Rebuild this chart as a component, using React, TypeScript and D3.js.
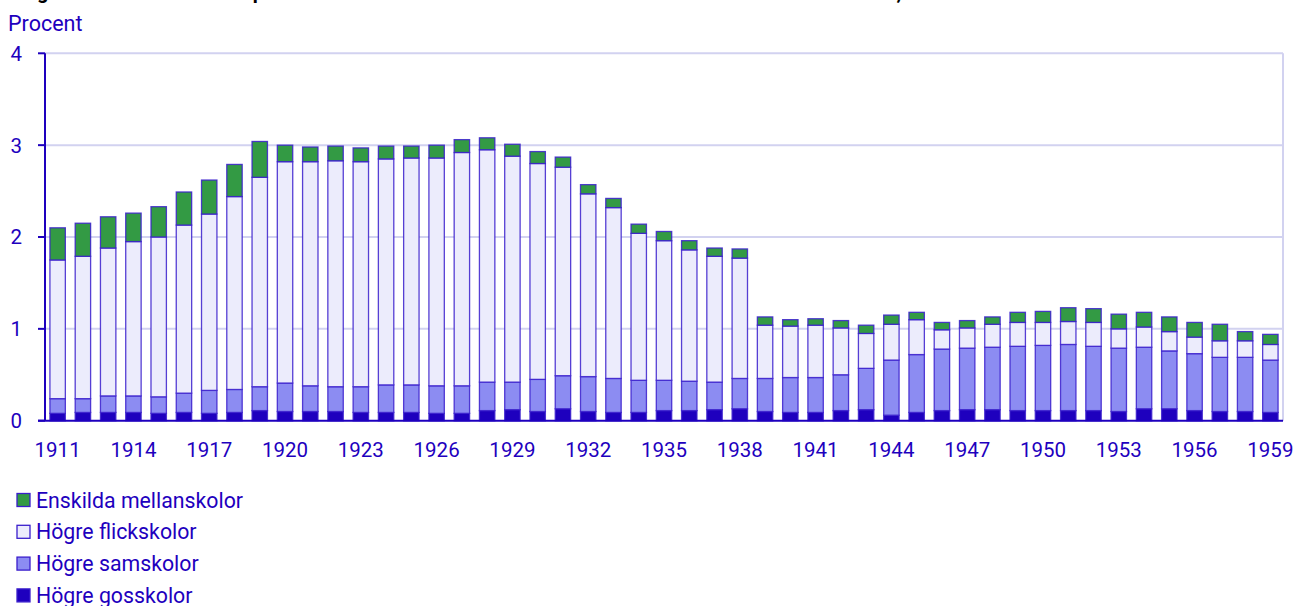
import React from "react";
import * as d3 from "d3";

const years: number[] = d3.range(1911, 1960);

const hogreGosskolor: number[] = [
  0.08, 0.09, 0.09, 0.09, 0.08, 0.09, 0.08, 0.09, 0.11, 0.1,
  0.1, 0.1, 0.09, 0.09, 0.09, 0.08, 0.08, 0.11, 0.12, 0.1,
  0.13, 0.1, 0.09, 0.09, 0.11, 0.11, 0.12, 0.13, 0.1, 0.09,
  0.09, 0.11, 0.12, 0.06, 0.09, 0.11, 0.12, 0.12, 0.11, 0.11,
  0.11, 0.11, 0.1, 0.13, 0.13, 0.11, 0.1, 0.1, 0.09,
];
const hogreSamskolor: number[] = [
  0.16, 0.15, 0.18, 0.18, 0.18, 0.21, 0.25, 0.25, 0.26, 0.31,
  0.28, 0.27, 0.28, 0.3, 0.3, 0.3, 0.3, 0.31, 0.3, 0.35,
  0.36, 0.38, 0.37, 0.35, 0.33, 0.32, 0.3, 0.33, 0.36, 0.38,
  0.38, 0.39, 0.45, 0.6, 0.63, 0.67, 0.67, 0.68, 0.7, 0.71,
  0.72, 0.7, 0.69, 0.67, 0.63, 0.62, 0.59, 0.59, 0.57,
];
const hogreFlickskolor: number[] = [
  1.51, 1.55, 1.61, 1.68, 1.74, 1.83, 1.92, 2.1, 2.28, 2.41,
  2.44, 2.46, 2.45, 2.46, 2.47, 2.48, 2.54, 2.53, 2.46, 2.35,
  2.27, 1.99, 1.86, 1.6, 1.52, 1.43, 1.37, 1.31, 0.58, 0.56,
  0.57, 0.51, 0.38, 0.39, 0.38, 0.21, 0.22, 0.25, 0.26, 0.25,
  0.25, 0.26, 0.21, 0.22, 0.21, 0.18, 0.18, 0.18, 0.17,
];
const enskildaMellanskolor: number[] = [
  0.35, 0.36, 0.34, 0.31, 0.33, 0.36, 0.37, 0.35, 0.39, 0.18,
  0.16, 0.16, 0.15, 0.14, 0.13, 0.14, 0.14, 0.13, 0.13, 0.13,
  0.11, 0.1, 0.1, 0.1, 0.1, 0.1, 0.09, 0.1, 0.09, 0.07,
  0.07, 0.08, 0.09, 0.1, 0.08, 0.08, 0.08, 0.08, 0.11, 0.12,
  0.15, 0.15, 0.16, 0.16, 0.16, 0.16, 0.18, 0.1, 0.11,
];

const seriesNames: string[] = [
  "Högre gosskolor",
  "Högre samskolor",
  "Högre flickskolor",
  "Enskilda mellanskolor",
];
const seriesColors: string[] = ["#1e00be", "#8c8cf2", "#ececfc", "#339a44"];
const yTicks: number[] = [0, 1, 2, 3, 4];
const xTickYears: number[] = d3.range(1911, 1960, 3);

const W = 1296;
const H = 606;
const M = { left: 45, right: 1283, top: 53.3, bottom: 420.7 };
const TEXT = "#1e00be";
const FONT = "Roboto, 'Noto Sans', sans-serif";

export default function App() {
  const seriesData = [hogreGosskolor, hogreSamskolor, hogreFlickskolor, enskildaMellanskolor];
  const rows = years.map((y, i) => {
    const r: any = { year: y };
    seriesNames.forEach((n, k) => (r[n] = seriesData[k][i]));
    return r;
  });
  const stacked = d3.stack<any>().keys(seriesNames)(rows);

  const x = d3
    .scaleBand<number>()
    .domain(years)
    .range([M.left, M.right])
    .paddingInner(0.39)
    .paddingOuter(0.195);
  const y = d3.scaleLinear().domain([0, 4]).range([M.bottom, M.top]);

  const legendOrder = [3, 2, 1, 0];

  return (
    <svg
      width={W}
      height={H}
      style={{ position: "absolute", left: 0, top: 0, display: "block", background: "#fff" }}
      fontFamily={FONT}
    >
      <text x={8} y={-1} fontSize={20} fontWeight="bold" fill="#000">
        Diagram 3. Elever i skolor i procent av hela antalet elever i de allmänna läroverken och realskolorna, 1911–1959
      </text>
      <text x={8} y={31} fontSize={21.5} fill={TEXT}>
        Procent
      </text>

      {/* grid */}
      {yTicks.filter((t) => t > 0).map((t) => (
        <line
          key={"g" + t}
          x1={M.left}
          x2={M.right}
          y1={y(t)}
          y2={y(t)}
          stroke="#d2d2f0"
          strokeWidth={2}
        />
      ))}
      <line x1={M.right} x2={M.right} y1={M.top} y2={M.bottom} stroke="#d2d2f0" strokeWidth={2} />

      {/* bars */}
      {stacked.map((s, k) => (
        <g key={s.key}>
          {s.map((d, i) => (
            <rect
              key={i}
              x={x(years[i])!}
              width={x.bandwidth()}
              y={y(d[1])}
              height={Math.max(0, y(d[0]) - y(d[1]))}
              fill={seriesColors[k]}
              stroke="#3a1ecc"
              strokeOpacity={0.85}
              strokeWidth={1.3}
            />
          ))}
        </g>
      ))}

      {/* axes */}
      <line x1={M.left} x2={M.left} y1={M.top} y2={M.bottom} stroke={TEXT} strokeWidth={2} />
      <line x1={38} x2={M.right} y1={M.bottom} y2={M.bottom} stroke={TEXT} strokeWidth={2} />
      {yTicks.map((t) => (
        <g key={"yt" + t}>
          <line x1={38} x2={M.left} y1={y(t)} y2={y(t)} stroke={TEXT} strokeWidth={2} />
          <text x={22} y={y(t)} dy="0.36em" textAnchor="end" fontSize={20.5} fill={TEXT}>
            {t}
          </text>
        </g>
      ))}
      {xTickYears.map((yr) => (
        <text
          key={"xt" + yr}
          x={x(yr)! + x.bandwidth() / 2}
          y={457}
          textAnchor="middle"
          fontSize={20.5}
          fill={TEXT}
        >
          {yr}
        </text>
      ))}

      {/* legend */}
      {legendOrder.map((k, j) => {
        const cy = 500 + j * 31.8;
        return (
          <g key={"lg" + k}>
            <rect
              x={17}
              y={cy - 6.5}
              width={13}
              height={13}
              fill={seriesColors[k]}
              stroke="#3a1ecc"
              strokeWidth={1.3}
            />
            <text x={36} y={cy} dy="0.36em" fontSize={21.3} fill={TEXT}>
              {seriesNames[k]}
            </text>
          </g>
        );
      })}
    </svg>
  );
}
